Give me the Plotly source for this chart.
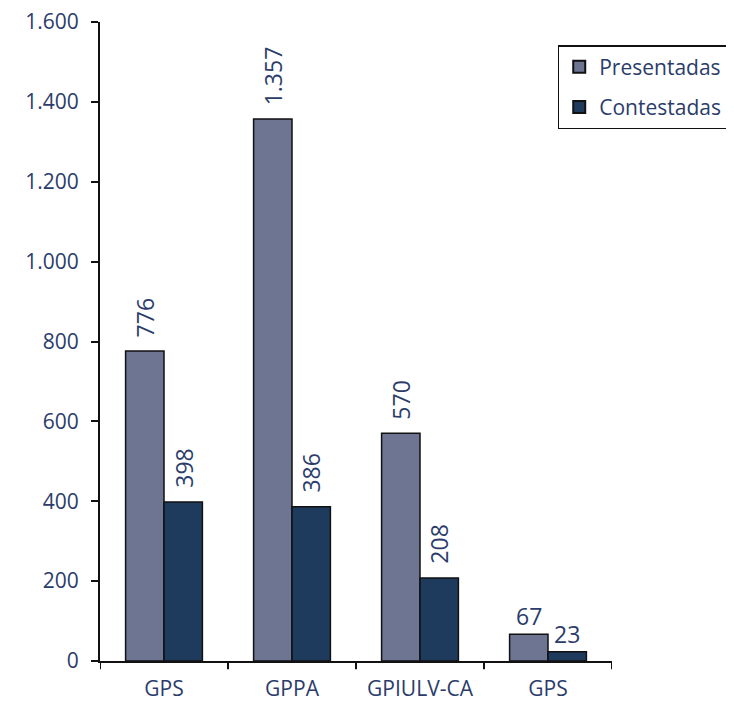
import plotly.graph_objects as go

categories = ["GPS", "GPPA", "GPIULV-CA", "GPS"]
presentadas = [776, 1357, 570, 67]
contestadas = [398, 386, 208, 23]
y_ticks = [0, 200, 400, 600, 800, 1000, 1200, 1400, 1600]

pos = list(range(len(categories)))
text_color = "#2b3c6b"
font_family = "Open Sans, Noto Sans, sans-serif"

def fmt(v):
    return f"{v:,}".replace(",", ".")

fig = go.Figure()
fig.add_trace(go.Bar(
    x=pos, y=presentadas, name="Presentadas", legendgroup="p",
    marker=dict(color="#6d7593", line=dict(color="#111111", width=1.5)),
))
fig.add_trace(go.Bar(
    x=pos, y=contestadas, name="Contestadas", legendgroup="c",
    marker=dict(color="#1e3b5d", line=dict(color="#111111", width=1.5)),
))

annotations = []
for series, off in ((presentadas, -0.15), (contestadas, 0.15)):
    for i, v in zip(pos, series):
        rotated = v >= 100
        annotations.append(dict(
            x=i + off, y=v, xref="x", yref="y", text=fmt(v), showarrow=False,
            textangle=-90 if rotated else 0,
            xanchor="center", yanchor="bottom",
            yshift=12 if rotated else 0,
            font=dict(size=23, color=text_color, family=font_family),
        ))

# page body adds an 8px offset, so the figure is sized to fit the window
fig.update_layout(
    width=726, height=693,
    margin=dict(l=92, r=122, t=14, b=40, autoexpand=False),
    paper_bgcolor="white", plot_bgcolor="white",
    barmode="group", bargap=0.4, bargroupgap=0,
    separators=",.",
    font=dict(family=font_family, color=text_color, size=21),
    showlegend=True,
    legend=dict(
        x=0.894, y=0.964, xanchor="left", yanchor="top",
        bordercolor="#111111", borderwidth=1.5, bgcolor="white",
        font=dict(size=21, color=text_color, family=font_family),
        itemsizing="constant", tracegroupgap=10,
    ),
    annotations=annotations,
)
fig.update_xaxes(
    automargin=False,
    range=[-0.5, len(categories) - 0.5],
    tickmode="array", tickvals=pos, ticktext=categories,
    showline=True, linecolor="#111111", linewidth=2,
    ticks="", showgrid=False, zeroline=False,
    ticklabelstandoff=8, ticklabeloverflow="allow",
    tickfont=dict(size=21, color=text_color),
)
# boundary ticks on x axis
for b in [p - 0.5 for p in pos] + [pos[-1] + 0.5]:
    fig.add_shape(type="line", xref="x", yref="paper", x0=b, x1=b, y0=0, y1=-0.013,
                  line=dict(color="#111111", width=2))
fig.update_yaxes(
    automargin=False,
    range=[0, 1600], tickvals=y_ticks, separatethousands=True,
    showline=True, linecolor="#111111", linewidth=2,
    ticks="outside", ticklen=7, tickwidth=2, tickcolor="#111111",
    showgrid=False, zeroline=False,
    ticklabelstandoff=8, ticklabeloverflow="allow",
    tickfont=dict(size=21, color=text_color),
)
fig.write_html("out.html")
